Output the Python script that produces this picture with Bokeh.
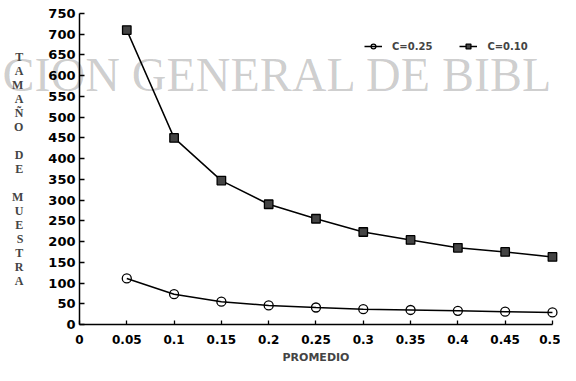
from bokeh.plotting import figure
from bokeh.models import (Legend, LegendItem, Label, FixedTicker, Range1d)
from bokeh.embed import file_html
from bokeh.resources import INLINE

# ---- data ----
promedio = [0.05, 0.10, 0.15, 0.20, 0.25, 0.30, 0.35, 0.40, 0.45, 0.50]
c_025 = [111, 73, 55, 46, 41, 37, 35, 33, 31, 29]
c_010 = [710, 450, 347, 290, 255, 223, 204, 185, 175, 163]
series_labels = ["C=0.25", "C=0.10"]
x_ticks = [0, 0.05, 0.10, 0.15, 0.20, 0.25, 0.30, 0.35, 0.40, 0.45, 0.50]
x_tick_labels = ["0", "0.05", "0.1", "0.15", "0.2", "0.25", "0.3", "0.35", "0.4", "0.45", "0.5"]
y_ticks = list(range(0, 751, 50))
x_title = "PROMEDIO"
y_title = "T\nA\nM\nA\nÑ\nO\n\nD\nE\n\nM\nU\nE\nS\nT\nR\nA"
watermark = "CION GENERAL DE BIBL"

# frame spans the whole canvas; axes are pinned at x=0 / y=0 inside it
p = figure(width=560, height=365, output_backend="svg", toolbar_location=None,
           x_range=Range1d(-0.0835, 0.5085), y_range=Range1d(-98.9, 781.35),
           min_border=0)
p.outline_line_color = None
p.xgrid.visible = False
p.ygrid.visible = False
p.background_fill_color = "white"

# watermark (translucent so the data lines stay dark)
p.add_layout(Label(x=-0.0814, y=603, text=watermark, text_font="Liberation Serif",
                   text_font_size="48px", text_color="black", text_alpha=0.2,
                   text_baseline="alphabetic", level="underlay"))

l1 = p.line(promedio, c_025, line_color="black", line_width=1.5)
s1 = p.scatter(promedio, c_025, marker="circle", size=9, line_color="black",
               line_width=1.3, fill_alpha=0)
l2 = p.line(promedio, c_010, line_color="black", line_width=1.5)
s2 = p.scatter(promedio, c_010, marker="square", size=8.5, line_color="black",
               line_width=1.3, fill_color="#444444")

# axes
for ax in (p.xaxis[0], p.yaxis[0]):
    ax.fixed_location = 0
    ax.axis_line_color = "black"
    ax.axis_line_width = 1.5
    ax.major_tick_line_color = "black"
    ax.major_tick_line_width = 1.3
    ax.minor_tick_line_color = None
    ax.major_tick_out = 0
    ax.major_label_text_font = "DejaVu Sans"
    ax.major_label_text_font_style = "bold"
    ax.major_label_text_color = "black"

p.xaxis.bounds = (0, 0.5)
p.xaxis.ticker = FixedTicker(ticks=x_ticks)
p.xaxis.major_label_overrides = {t: s for t, s in zip(x_ticks, x_tick_labels)}
p.xaxis.major_tick_in = 4
p.xaxis.major_label_text_font_size = "12px"
p.xaxis.major_label_standoff = 11
p.xaxis.axis_label = x_title
p.xaxis.axis_label_text_font = "DejaVu Sans"
p.xaxis.axis_label_text_font_style = "bold"
p.xaxis.axis_label_text_font_size = "11px"
p.xaxis.axis_label_standoff = 3

p.yaxis.bounds = (0, 750)
p.yaxis.ticker = FixedTicker(ticks=y_ticks)
p.yaxis.major_tick_in = 5
p.yaxis.major_label_text_font_size = "13px"
p.yaxis.major_label_standoff = 4

# stacked vertical y title
p.yaxis.axis_label = y_title
p.yaxis.axis_label_text_font = "Liberation Serif"
p.yaxis.axis_label_text_font_style = "bold"
p.yaxis.axis_label_text_font_size = "12px"
p.yaxis.axis_label_text_line_height = 1.0
p.yaxis.axis_label_standoff = 22
p.yaxis.axis_label_orientation = "horizontal"

legend = Legend(items=[LegendItem(label=series_labels[0], renderers=[l1, s1]),
                       LegendItem(label=series_labels[1], renderers=[l2, s2])],
                orientation="horizontal", location=(364, 313),
                border_line_color=None, background_fill_alpha=0,
                padding=0, margin=0, spacing=27, glyph_width=18, glyph_height=12,
                label_standoff=10, label_text_font="DejaVu Sans",
                label_text_font_style="bold", label_text_font_size="10px",
                label_height=12)
p.add_layout(legend)

open("out.html", "w").write(file_html(p, INLINE))
